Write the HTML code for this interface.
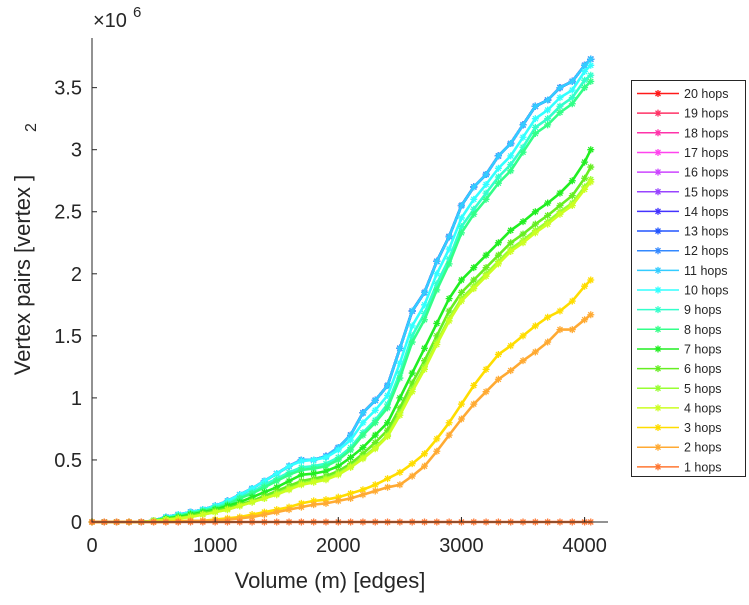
<!DOCTYPE html>
<html><head><meta charset="utf-8"><style>
html,body{margin:0;padding:0;background:#fff;}
svg text{font-family:"Liberation Sans",sans-serif;fill:#262626;}
</style></head><body>
<svg id="chart" width="749" height="600" xmlns="http://www.w3.org/2000/svg">
<g id="plot"></g>
<g id="axes"></g>
<g id="legend"></g>
</svg>
<script>
const xVals = [0,100,200,300,400,500,600,700,800,900,1000,1100,1200,1300,1400,1500,1600,1700,1800,1900,2000,2100,2200,2300,2400,2500,2600,2700,2800,2900,3000,3100,3200,3300,3400,3500,3600,3700,3800,3900,4000,4050];
// values in units of 1e6
const topCurve = [0,0,0,0,0,0.01,0.04,0.06,0.08,0.1,0.13,0.17,0.22,0.27,0.33,0.39,0.45,0.5,0.5,0.53,0.6,0.7,0.88,0.98,1.1,1.4,1.7,1.85,2.1,2.3,2.55,2.7,2.8,2.95,3.05,3.2,3.35,3.4,3.5,3.55,3.68,3.73];
const curve10 = [0,0,0,0,0,0.01,0.04,0.06,0.08,0.1,0.13,0.17,0.22,0.27,0.33,0.39,0.45,0.49,0.5,0.52,0.58,0.66,0.8,0.9,1.02,1.28,1.58,1.75,2.0,2.2,2.45,2.6,2.72,2.85,2.95,3.1,3.25,3.32,3.42,3.48,3.63,3.68];
const curve9 = [0,0,0,0,0,0.01,0.03,0.05,0.07,0.09,0.12,0.15,0.2,0.24,0.3,0.35,0.4,0.44,0.45,0.47,0.52,0.6,0.72,0.82,0.95,1.2,1.5,1.68,1.92,2.12,2.38,2.52,2.65,2.78,2.88,3.02,3.18,3.25,3.35,3.42,3.56,3.6];
const curve8 = [0,0,0,0,0,0.01,0.03,0.05,0.07,0.09,0.11,0.14,0.19,0.23,0.28,0.33,0.38,0.42,0.43,0.45,0.5,0.58,0.7,0.8,0.92,1.16,1.45,1.63,1.87,2.08,2.33,2.48,2.6,2.73,2.83,2.98,3.13,3.2,3.3,3.37,3.5,3.55];
const curve7 = [0,0,0,0,0,0.01,0.03,0.04,0.06,0.08,0.1,0.13,0.16,0.2,0.24,0.28,0.33,0.38,0.39,0.41,0.45,0.52,0.6,0.7,0.8,1.0,1.2,1.4,1.6,1.8,1.95,2.05,2.15,2.25,2.35,2.42,2.5,2.57,2.65,2.75,2.9,3.0];
const curve6 = [0,0,0,0,0,0.01,0.02,0.03,0.05,0.07,0.09,0.11,0.14,0.17,0.21,0.25,0.29,0.33,0.35,0.37,0.41,0.47,0.55,0.64,0.74,0.92,1.12,1.3,1.5,1.7,1.85,1.95,2.05,2.15,2.25,2.32,2.4,2.47,2.55,2.63,2.77,2.86];
const curve5 = [0,0,0,0,0,0.01,0.02,0.03,0.04,0.06,0.08,0.1,0.13,0.16,0.19,0.23,0.27,0.31,0.33,0.35,0.39,0.45,0.52,0.6,0.7,0.88,1.07,1.25,1.45,1.64,1.8,1.9,2.0,2.1,2.2,2.27,2.35,2.42,2.5,2.57,2.7,2.76];
const curve4 = [0,0,0,0,0,0.01,0.02,0.03,0.04,0.06,0.08,0.1,0.13,0.16,0.19,0.22,0.26,0.3,0.32,0.34,0.38,0.44,0.51,0.59,0.69,0.86,1.05,1.23,1.43,1.62,1.78,1.88,1.98,2.08,2.18,2.25,2.33,2.4,2.48,2.55,2.68,2.74];
const curve3 = [0,0,0,0,0,0,0,0.01,0.01,0.01,0.02,0.03,0.04,0.06,0.08,0.1,0.12,0.15,0.17,0.18,0.2,0.23,0.26,0.3,0.35,0.4,0.47,0.55,0.67,0.8,0.95,1.1,1.23,1.35,1.42,1.5,1.58,1.65,1.7,1.78,1.9,1.95];
const curve2 = [0,0,0,0,0,0,0,0,0.01,0.01,0.01,0.02,0.03,0.04,0.06,0.08,0.1,0.12,0.14,0.15,0.17,0.19,0.22,0.25,0.28,0.3,0.37,0.45,0.57,0.7,0.83,0.95,1.05,1.15,1.22,1.3,1.37,1.45,1.55,1.55,1.63,1.67];
const curve1 = [0,0,0,0,0,0,0,0,0,0,0,0,0,0,0,0,0,0,0,0,0,0,0,0,0,0,0,0,0,0,0,0,0,0,0,0,0,0,0,0,0,0];
const hopLabels = ["20 hops","19 hops","18 hops","17 hops","16 hops","15 hops","14 hops","13 hops","12 hops","11 hops","10 hops","9 hops","8 hops","7 hops","6 hops","5 hops","4 hops","3 hops","2 hops","1 hops"];
const hopSeries = [topCurve,topCurve,topCurve,topCurve,topCurve,topCurve,topCurve,topCurve,topCurve,topCurve,curve10,curve9,curve8,curve7,curve6,curve5,curve4,curve3,curve2,curve1];
const hopColors = ["#ff1a1a","#ff3366","#ff33aa","#ff44ee","#cc44ff","#9944ff","#4433ff","#2255ff","#3388ff","#33ccff","#33ffff","#33ffcc","#33ff88","#22ee22","#66ee22","#99ff33","#ccff22","#ffdd00","#ffaa33","#ff7733"];
const xTicks = [0,1000,2000,3000,4000];
const yTicks = [0,0.5,1,1.5,2,2.5,3,3.5];
const yTickLabels = ["0","0.5","1","1.5","2","2.5","3","3.5"];

const X0=92, X1=608, Y0=522, Y1=38;
const xMin=0, xMax=4190, yMin=0, yMax=3.9;
function sx(v){return X0+(v-xMin)/(xMax-xMin)*(X1-X0);}
function sy(v){return Y0-(v-yMin)/(yMax-yMin)*(Y0-Y1);}
const NS="http://www.w3.org/2000/svg";
function mk(tag,attrs,parent){const e=document.createElementNS(NS,tag);for(const k in attrs)e.setAttribute(k,attrs[k]);parent.appendChild(e);return e;}
function star(g,x,y,c){
  const p=mk('path',{d:`M${x-3.5},${y}H${x+3.5}M${x},${y-3.5}V${y+3.5}M${x-2.5},${y-2.5}L${x+2.5},${y+2.5}M${x-2.5},${y+2.5}L${x+2.5},${y-2.5}`,stroke:c,'stroke-width':1.3,fill:'none'},g);
  
  
}
const plot=document.getElementById('plot');
for(let s=0;s<hopSeries.length;s++){
  const g=mk('g',{},plot);
  
  
  const vals=hopSeries[s];
  const pts=xVals.map((x,i)=>sx(x).toFixed(1)+','+sy(vals[i]).toFixed(1)).join(' ');
  const l=mk('polyline',{points:pts,fill:'none',stroke:hopColors[s],'stroke-width':2.6},g);
  
  
  xVals.forEach((x,i)=>star(g,sx(x),sy(vals[i]),hopColors[s]));
}
const axes=document.getElementById('axes');
let a=mk('path',{d:`M${X0},${Y1}V${Y0}H${X1}`,stroke:'#262626','stroke-width':1,fill:'none'},axes);


xTicks.forEach(t=>{
  const x=sx(t);
  mk('line',{x1:x,x2:x,y1:Y0,y2:Y0-5,stroke:'#262626'},axes);
  const tx=mk('text',{x:x,y:Y0+30,'text-anchor':'middle','font-size':20},axes);
  tx.textContent=t;
  
  
});
yTicks.forEach((t,i)=>{
  const y=sy(t);
  mk('line',{x1:X0,x2:X0+5,y1:y,y2:y,stroke:'#262626'},axes);
  const tx=mk('text',{x:X0-10,y:y+7,'text-anchor':'end','font-size':20},axes);
  tx.textContent=yTickLabels[i];
  
  
});
let t=mk('text',{x:330,y:588,'text-anchor':'middle','font-size':22},axes);
t.textContent='Volume (m) [edges]';


t=mk('text',{x:0,y:0,'text-anchor':'middle','font-size':22,transform:'translate(30,275) rotate(-90)'},axes);
t.textContent='Vertex pairs [vertex     ]';


t=mk('text',{x:0,y:0,'font-size':16,transform:'translate(36,132) rotate(-90)'},axes);
t.textContent='2';


t=mk('text',{x:93,y:27,'font-size':20},axes);
t.textContent='×10';


t=mk('text',{x:133,y:17,'font-size':15},axes);
t.textContent='6';



const leg=document.getElementById('legend');
let box=mk('rect',{x:631.5,y:80.5,width:114,height:396,fill:'#fff',stroke:'#262626','stroke-width':1},leg);


hopLabels.forEach((lab,i)=>{
  const y=93.5+i*19.65;
  const g=mk('g',{},leg);
  
  
  mk('line',{x1:637,x2:679,y1:y,y2:y,stroke:hopColors[i],'stroke-width':1.5},g);
  star(g,658,y,hopColors[i]);
  const tx=mk('text',{x:684,y:y+4.5,'font-size':12.5},g);
  tx.textContent=lab;
});
</script>
</body></html>
